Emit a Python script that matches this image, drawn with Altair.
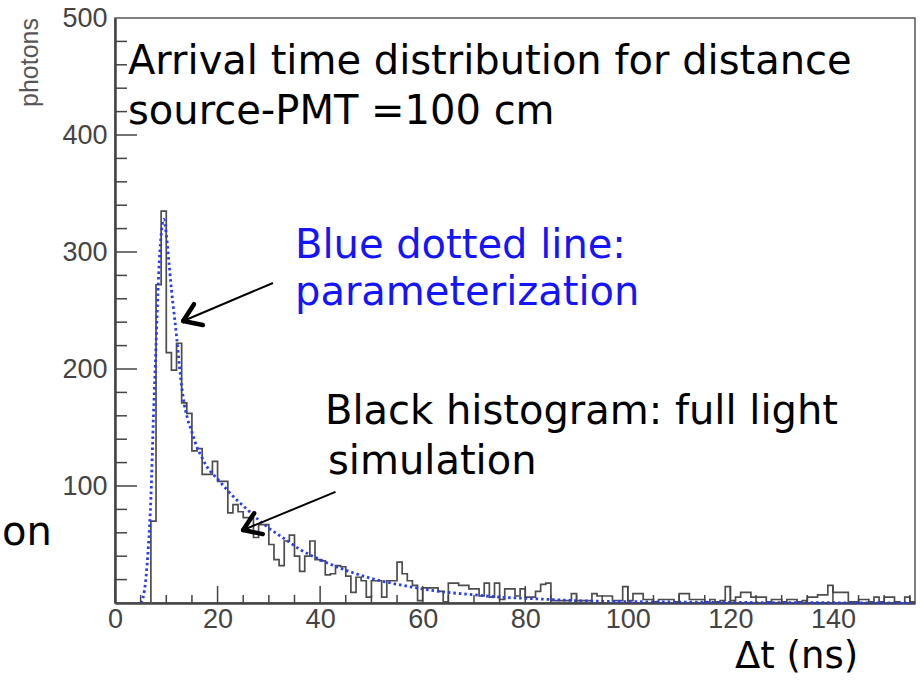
import altair as alt
import pandas as pd
import math

# ---------------- data ----------------
# histogram (full light simulation), 1 ns bins starting at t = 0 .. 155
hist_counts = [
    0, 0, 0, 0, 0, 0, 0, 70, 272, 335,
    214, 199, 222, 171, 162, 130, 132, 110, 110, 121,
    104, 104, 77, 84, 78, 73, 73, 56, 67, 67,
    50, 37, 32, 53, 58, 40, 27, 40, 53, 37,
    36, 24, 25, 32, 31, 23, 9, 22, 19, 5,
    19, 19, 5, 19, 19, 35, 25, 19, 15, 2,
    13, 13, 13, 10, 1, 17, 17, 15, 15, 12,
    12, 6, 17, 5, 17, 3, 12, 12, 6, 12,
    5, 5, 10, 16, 17, 2, 2, 2, 2, 8,
    2, 2, 2, 8, 6, 6, 6, 2, 2, 14,
    2, 8, 8, 3, 3, 1, 3, 3, 3, 1,
    8, 8, 3, 3, 3, 1, 3, 1, 2, 14,
    2, 5, 9, 9, 5, 5, 5, 1, 3, 3,
    1, 3, 3, 1, 2, 5, 5, 7, 7, 15,
    9, 9, 9, 1, 1, 3, 3, 1, 5, 1,
    5, 5, 1, 0, 5, 1,
]
hist_edges = list(range(0, 157))

# parameterization (blue dotted curve)
fit_t = [5, 5.5, 6, 6.5, 7, 7.5, 8, 8.5, 9, 9.5, 10, 10.5, 11, 11.5, 12, 12.5,
         13, 13.5, 14, 15, 16, 17, 18, 20, 22, 24, 26, 28, 30, 33, 36, 40, 45,
         50, 55, 60, 65, 70, 75, 80, 85, 90, 100, 110, 120, 130, 140, 156]
fit_v = [0, 5, 20, 48, 90, 160, 220, 280, 315, 328, 315, 292, 268, 248, 228, 205,
         185, 170, 160, 146, 133, 124, 116, 106, 96, 87, 79, 71, 64, 55, 46, 37, 28,
         21, 16, 12, 9, 7, 5, 4, 3, 2, 1.2, 0.8, 0.5, 0.3, 0.2, 0.1]

x_labels = [0, 20, 40, 60, 80, 100, 120, 140]
y_labels = [100, 200, 300, 400, 500]
x_major_ticks = [0, 20, 40, 60, 80, 100, 120, 140]
x_minor_ticks = [5, 10, 15, 25, 30, 35, 45, 50, 55, 65, 70, 75, 85, 90, 95,
                 105, 110, 115, 125, 130, 135, 145, 150, 155]
y_major_ticks = [100, 200, 300, 400]
y_minor_ticks = [20, 40, 60, 80, 120, 140, 160, 180, 220, 240, 260, 280,
                 320, 340, 360, 380, 420, 440, 460, 480]

# arrows (tail -> tip), data coordinates
arrows_tail_t = [30.8, 43.0]
arrows_tail_v = [273.5, 95.0]
arrows_tip_t = [13.3, 25.0]
arrows_tip_v = [241.0, 62.4]

# ---------------- layout ----------------
W, H = 800, 585
XMAX, YMAX = 156, 500
FONT = "DejaVu Sans"
AXC = "#444444"

xs = alt.Scale(domain=[0, XMAX], nice=False, zero=False)
ys = alt.Scale(domain=[0, YMAX], nice=False)

hist_df = pd.DataFrame({
    "t": hist_edges,
    "v": hist_counts + [hist_counts[-1]],
})
fit_df = pd.DataFrame({"t": fit_t, "v": fit_v})

X_AX = alt.Axis(values=x_labels, title=None, labelPadding=3)
Y_AX = alt.Axis(values=y_labels, title=None, labelPadding=8)

def X(field="t"):
    return alt.X(f"{field}:Q", scale=xs, title=None)

def Y(field="v"):
    return alt.Y(f"{field}:Q", scale=ys, title=None)

hist = alt.Chart(hist_df).mark_line(
    interpolate="step-after", color="#4d4d4d", strokeWidth=1.7
).encode(x=alt.X("t:Q", scale=xs, axis=X_AX), y=alt.Y("v:Q", scale=ys, axis=Y_AX))

fit = alt.Chart(fit_df).mark_line(
    color="#2a3cf0", strokeDash=[2.5, 3], strokeWidth=2.8, interpolate="monotone"
).encode(x=X(), y=Y())

# inward ticks
def xticks(vals, length):
    return alt.Chart(pd.DataFrame({"t": vals})).mark_rule(
        color=AXC, strokeWidth=1.5
    ).encode(x=X(), y=alt.value(H), y2=alt.value(H - length))

def yticks(vals, length):
    return alt.Chart(pd.DataFrame({"v": vals})).mark_rule(
        color=AXC, strokeWidth=1.5
    ).encode(y=Y(), x=alt.value(0), x2=alt.value(length))

# arrows
sx = W / XMAX
sy = H / YMAX
shaft_rows, wing_rows = [], []
for tt, tv, pt, pv in zip(arrows_tail_t, arrows_tail_v, arrows_tip_t, arrows_tip_v):
    shaft_rows.append({"t": tt, "v": tv, "t2": pt, "v2": pv})
    dx = (tt - pt) * sx
    dy = -(tv - pv) * sy
    ang = math.atan2(dy, dx)
    for da in (-0.6, 0.6):
        a = ang + da
        wx = pt + 20 * math.cos(a) / sx
        wy = pv - 20 * math.sin(a) / sy
        wing_rows.append({"t": pt, "v": pv, "t2": wx, "v2": wy})

shafts = alt.Chart(pd.DataFrame(shaft_rows)).mark_rule(color="black", strokeWidth=2).encode(
    x=X(), y=Y(), x2="t2:Q", y2="v2:Q")
wings = alt.Chart(pd.DataFrame(wing_rows)).mark_rule(
    color="black", strokeWidth=4.5, strokeCap="round").encode(
    x=X(), y=Y(), x2="t2:Q", y2="v2:Q")

def label(txt, x, y, size=40, color="black", align="left", angle=0, font=FONT):
    kw = dict(text=txt, fontSize=size, font=font, color=color, align=align,
              baseline="alphabetic")
    if angle:
        kw["angle"] = angle
    return alt.Chart(pd.DataFrame({"a": [0]})).mark_text(**kw).encode(
        x=alt.value(x), y=alt.value(y))

texts = [
    label("Arrival time distribution for distance", 13, 56),
    label("source-PMT =100 cm", 13, 106),
    label("Blue dotted line:", 180, 240, color="#1414ff"),
    label("parameterization", 180, 287, color="#1414ff"),
    label("Black histogram: full light", 210, 406),
    label("simulation", 213, 456),
    label("\u0394t (ns)", 620, 650, size=37),
    label("on", -113, 527, align="left"),
    label("photons", -77, 0, size=25, color="#555", align="right", angle=270,
          font="Liberation Sans"),
]

chart = alt.layer(
    hist, fit,
    xticks(x_major_ticks, 17), xticks(x_minor_ticks, 8),
    yticks(y_major_ticks, 22), yticks(y_minor_ticks, 12),
    shafts, wings, *texts
).properties(
    width=W, height=H,
    background="white",
    padding={"left": 115, "top": 18, "right": 7, "bottom": 77},
    autosize=alt.AutoSizeParams(type="none"),
).configure_view(
    stroke="#555", strokeWidth=1.5
).configure_axis(
    ticks=False, grid=False, labelFont="Liberation Sans", labelFontSize=27,
    labelColor="#444", domainColor=AXC, domainWidth=2.5, labelFlush=False,
)

chart.save("out.html", embed_options={"renderer": "svg", "actions": False})
